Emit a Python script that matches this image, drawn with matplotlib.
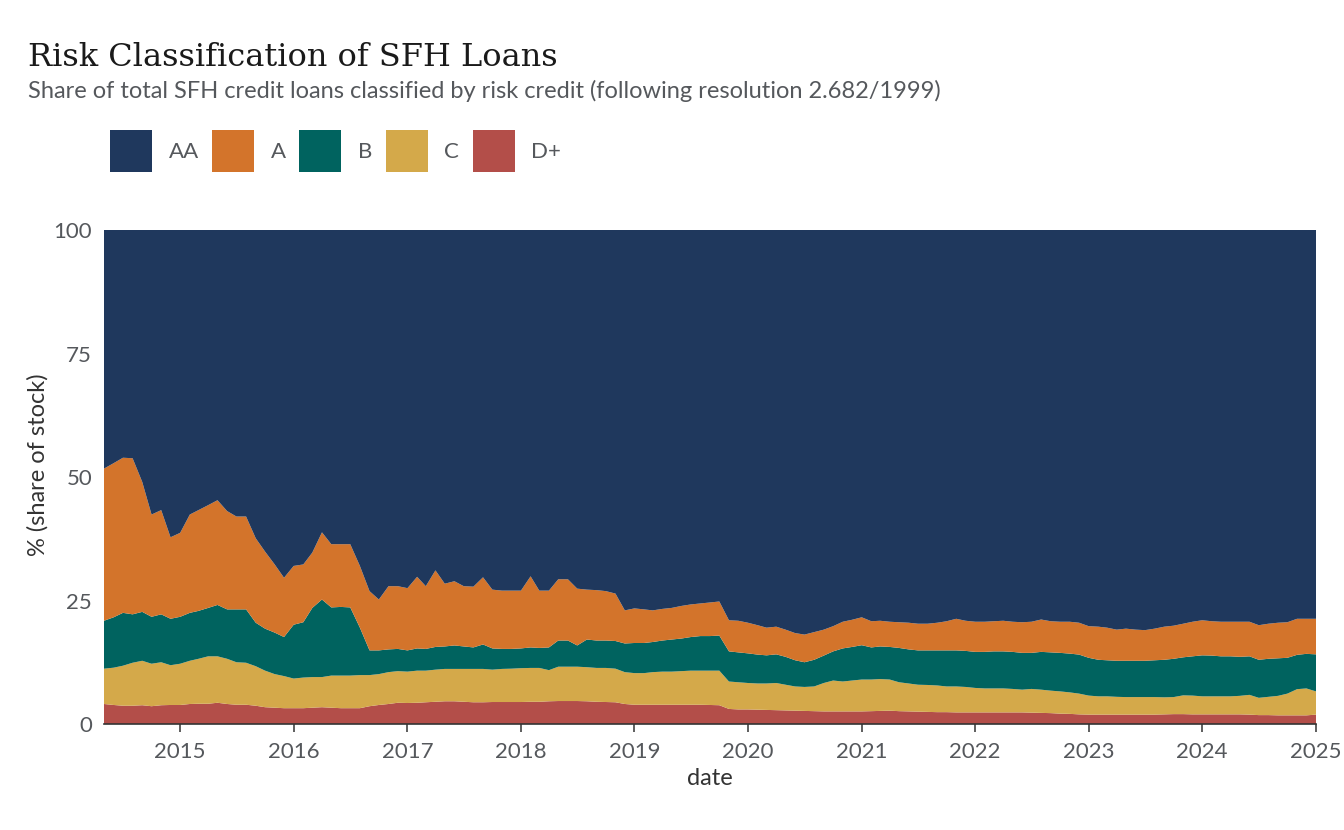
import numpy as np
import pandas as pd
import matplotlib
matplotlib.use("Agg")
import matplotlib.pyplot as plt
import matplotlib.dates as mdates
from matplotlib.patches import Patch

# ---------------- data (monthly, % of stock) ----------------
start_month = "2014-05-01"
n_months = 129

share_dplus = [
    4.05, 3.85, 3.7, 3.7, 3.8, 3.6, 3.8, 3.85, 3.85, 4.05, 4.1, 4.1, 4.3, 4.05, 3.9, 3.9,
    3.7, 3.4, 3.3, 3.2, 3.2, 3.2, 3.3, 3.4, 3.3, 3.2, 3.2, 3.2, 3.6, 3.85, 4.05, 4.3,
    4.25, 4.3, 4.4, 4.5, 4.6, 4.6, 4.5, 4.4, 4.4, 4.45, 4.45, 4.45, 4.45, 4.5, 4.5, 4.6,
    4.65, 4.65, 4.65, 4.6, 4.5, 4.45, 4.4, 4.05, 3.9, 3.9, 3.9, 3.9, 3.9, 3.9, 3.9, 3.9,
    3.85, 3.8, 3.05, 2.95, 2.95, 2.9, 2.85, 2.8, 2.75, 2.7, 2.65, 2.6, 2.55, 2.55, 2.55, 2.55,
    2.55, 2.6, 2.65, 2.7, 2.6, 2.55, 2.5, 2.45, 2.4, 2.4, 2.35, 2.35, 2.35, 2.35, 2.35, 2.35,
    2.35, 2.35, 2.3, 2.25, 2.2, 2.1, 2.05, 1.95, 1.9, 1.9, 1.9, 1.9, 1.9, 1.9, 1.9, 1.9,
    1.95, 2.0, 2.0, 1.95, 1.95, 1.95, 1.95, 1.95, 1.95, 1.9, 1.8, 1.8, 1.75, 1.75, 1.75, 1.75,
    1.9,
]
share_c = [
    7.15, 7.55, 8.1, 8.7, 9.0, 8.6, 8.7, 8.05, 8.35, 8.75, 9.1, 9.6, 9.4, 9.15, 8.6, 8.5,
    8.0, 7.4, 6.8, 6.5, 6.0, 6.2, 6.2, 6.1, 6.5, 6.6, 6.6, 6.7, 6.3, 6.25, 6.45, 6.4,
    6.35, 6.5, 6.4, 6.5, 6.55, 6.55, 6.65, 6.75, 6.75, 6.55, 6.7, 6.75, 6.85, 6.85, 6.85, 6.3,
    6.95, 6.95, 6.95, 6.9, 6.85, 6.9, 6.8, 6.45, 6.4, 6.4, 6.6, 6.7, 6.7, 6.8, 6.9, 6.9,
    6.95, 7.0, 5.55, 5.5, 5.35, 5.3, 5.35, 5.5, 5.2, 4.9, 4.85, 5.0, 5.75, 6.25, 6.05, 6.25,
    6.45, 6.4, 6.45, 6.3, 5.85, 5.65, 5.45, 5.45, 5.4, 5.2, 5.25, 5.15, 4.95, 4.85, 4.85, 4.85,
    4.75, 4.6, 4.8, 4.7, 4.55, 4.5, 4.35, 4.2, 3.85, 3.7, 3.7, 3.6, 3.55, 3.55, 3.55, 3.55,
    3.45, 3.45, 3.8, 3.8, 3.65, 3.65, 3.65, 3.65, 3.75, 4.0, 3.5, 3.7, 3.95, 4.4, 5.3, 5.45,
    4.7,
]
share_b = [
    9.7, 10.2, 10.7, 9.8, 9.9, 9.5, 9.7, 9.4, 9.5, 9.7, 9.7, 9.8, 10.4, 10.0, 10.7, 10.8,
    8.8, 8.5, 8.4, 7.9, 10.9, 11.2, 14.0, 15.7, 13.8, 13.9, 13.8, 9.6, 5.0, 4.8, 4.6, 4.5,
    4.3, 4.5, 4.4, 4.6, 4.55, 4.75, 4.55, 4.35, 4.95, 4.3, 4.05, 4.0, 4.0, 4.15, 4.05, 4.6,
    5.3, 5.3, 4.3, 5.6, 5.55, 5.55, 5.6, 5.8, 6.1, 6.1, 6.1, 6.3, 6.5, 6.6, 6.8, 7.0,
    7.0, 7.1, 6.1, 6.05, 6.0, 5.85, 5.7, 5.8, 5.65, 5.3, 5.0, 5.4, 5.55, 5.9, 6.7, 6.8,
    6.95, 6.5, 6.6, 6.6, 6.95, 6.9, 6.95, 7.0, 7.1, 7.3, 7.3, 7.3, 7.3, 7.4, 7.5, 7.5,
    7.5, 7.45, 7.3, 7.65, 7.75, 7.8, 7.85, 7.9, 7.65, 7.4, 7.3, 7.3, 7.35, 7.35, 7.35, 7.45,
    7.6, 7.75, 7.7, 7.95, 8.3, 8.25, 8.1, 8.1, 7.9, 7.8, 7.7, 7.7, 7.6, 7.25, 6.95, 7.0,
    7.5,
]
share_a = [
    30.8, 31.2, 31.4, 31.6, 26.3, 20.7, 21.1, 16.5, 17.0, 19.9, 20.4, 20.8, 21.2, 19.9, 18.8, 18.8,
    17.1, 15.6, 13.8, 12.0, 11.9, 11.7, 11.2, 13.6, 12.8, 12.7, 12.8, 12.5, 12.0, 10.3, 12.8, 12.7,
    12.6, 14.5, 12.7, 15.5, 12.7, 13.0, 12.2, 12.3, 13.6, 11.9, 11.8, 11.8, 11.7, 14.4, 11.6, 11.5,
    12.4, 12.4, 11.5, 10.1, 10.2, 10.0, 9.6, 6.7, 7.0, 6.8, 6.4, 6.4, 6.4, 6.6, 6.6, 6.6,
    6.8, 6.9, 6.3, 6.4, 6.2, 5.95, 5.6, 5.6, 5.5, 5.5, 5.6, 5.6, 5.25, 5.1, 5.4, 5.5,
    5.65, 5.3, 5.2, 5.1, 5.2, 5.4, 5.4, 5.4, 5.6, 5.9, 6.4, 6.1, 6.1, 6.1, 6.1, 6.2,
    6.1, 6.2, 6.3, 6.55, 6.3, 6.3, 6.45, 6.45, 6.4, 6.7, 6.6, 6.3, 6.5, 6.3, 6.2, 6.4,
    6.7, 6.7, 6.8, 7.0, 7.1, 6.95, 7.0, 7.0, 7.1, 7.0, 7.0, 7.1, 7.2, 7.2, 7.3, 7.1,
    7.2,
]
share_aa = [
    48.3, 47.2, 46.1, 46.2, 51.0, 57.6, 56.7, 62.2, 61.3, 57.6, 56.7, 55.7, 54.7, 56.9, 58.0, 58.0,
    62.4, 65.1, 67.7, 70.4, 68.0, 67.7, 65.3, 61.2, 63.6, 63.6, 63.6, 68.0, 73.1, 74.8, 72.1, 72.1,
    72.5, 70.2, 72.1, 68.9, 71.6, 71.1, 72.1, 72.2, 70.3, 72.8, 73.0, 73.0, 73.0, 70.1, 73.0, 73.0,
    70.7, 70.7, 72.6, 72.8, 72.9, 73.1, 73.6, 77.0, 76.6, 76.8, 77.0, 76.7, 76.5, 76.1, 75.8, 75.6,
    75.4, 75.2, 79.0, 79.1, 79.5, 80.0, 80.5, 80.3, 80.9, 81.6, 81.9, 81.4, 80.9, 80.2, 79.3, 78.9,
    78.4, 79.2, 79.1, 79.3, 79.4, 79.5, 79.7, 79.7, 79.5, 79.2, 78.7, 79.1, 79.3, 79.3, 79.2, 79.1,
    79.3, 79.4, 79.3, 78.85, 79.2, 79.3, 79.3, 79.5, 80.2, 80.3, 80.5, 80.9, 80.7, 80.9, 81.0, 80.7,
    80.3, 80.1, 79.7, 79.3, 79.0, 79.2, 79.3, 79.3, 79.3, 79.3, 80.0, 79.7, 79.5, 79.4, 78.7, 78.7,
    78.7,
]

categories = ["AA", "A", "B", "C", "D+"]
colors = {"AA": "#1f385d", "A": "#d3742b", "B": "#00635f", "C": "#d4a94a", "D+": "#b34e49"}
year_ticks = list(range(2015, 2026))
y_ticks = [0, 25, 50, 75, 100]

title = "Risk Classification of SFH Loans"
subtitle = "Share of total SFH credit loans classified by risk credit (following resolution 2.682/1999)"

# ---------------- figure ----------------
plt.rcParams["font.family"] = ["Lato", "DejaVu Sans"]
TEXT_GRAY = "#55585c"

dates = pd.date_range(start_month, periods=n_months, freq="MS")

fig = plt.figure(figsize=(13.44, 8.30), dpi=100)
ax = fig.add_axes([104 / 1344, 1 - 724 / 830, (1316 - 104) / 1344, (724 - 230) / 830])

series = {"AA": share_aa, "A": share_a, "B": share_b, "C": share_c, "D+": share_dplus}
stack_order = ["D+", "C", "B", "A", "AA"]
ax.stackplot(dates, *[np.array(series[k]) for k in stack_order],
             colors=[colors[k] for k in stack_order], linewidth=0)

ax.set_xlim(dates[0], dates[-1])
ax.set_ylim(0, 100)
ax.set_xticks([pd.Timestamp(f"{y}-01-01") for y in year_ticks])
ax.xaxis.set_major_formatter(mdates.DateFormatter("%Y"))
ax.set_yticks(y_ticks)

for s in ["top", "right", "left"]:
    ax.spines[s].set_visible(False)
ax.spines["bottom"].set_color("#333333")
ax.spines["bottom"].set_linewidth(1.2)
ax.tick_params(axis="x", direction="out", length=6, width=1.1, color="#333333",
               labelsize=16, labelcolor=TEXT_GRAY, pad=7)
ax.tick_params(axis="y", length=0, labelsize=16, labelcolor=TEXT_GRAY, pad=8.6)

ax.set_xlabel("date", fontsize=17, color="#333333")
ax.set_ylabel("% (share of stock)", fontsize=17, color="#333333")
ax.xaxis.set_label_coords(0.5, -0.089)
ax.yaxis.set_label_coords(-0.046, 0.524)

fig.text(28 / 1344, 1 - 66 / 830, title, family=["DejaVu Serif"], fontsize=23,
         color="#1a1a1a", ha="left", va="baseline")
fig.text(28 / 1344, 1 - 98 / 830, subtitle, fontsize=17, color=TEXT_GRAY,
         ha="left", va="baseline")

handles = [Patch(facecolor=colors[k], edgecolor="none", label=k) for k in categories]
leg = fig.legend(handles=handles, loc="upper left", bbox_to_anchor=(110 / 1344, 1 - 130 / 830),
                 ncol=5, frameon=False, fontsize=16, handlelength=1.89, handleheight=2.53,
                 handletextpad=0.75, columnspacing=0.6, borderpad=0, borderaxespad=0)
for t in leg.get_texts():
    t.set_color(TEXT_GRAY)

fig.savefig("out.png", dpi=100, facecolor="white")
